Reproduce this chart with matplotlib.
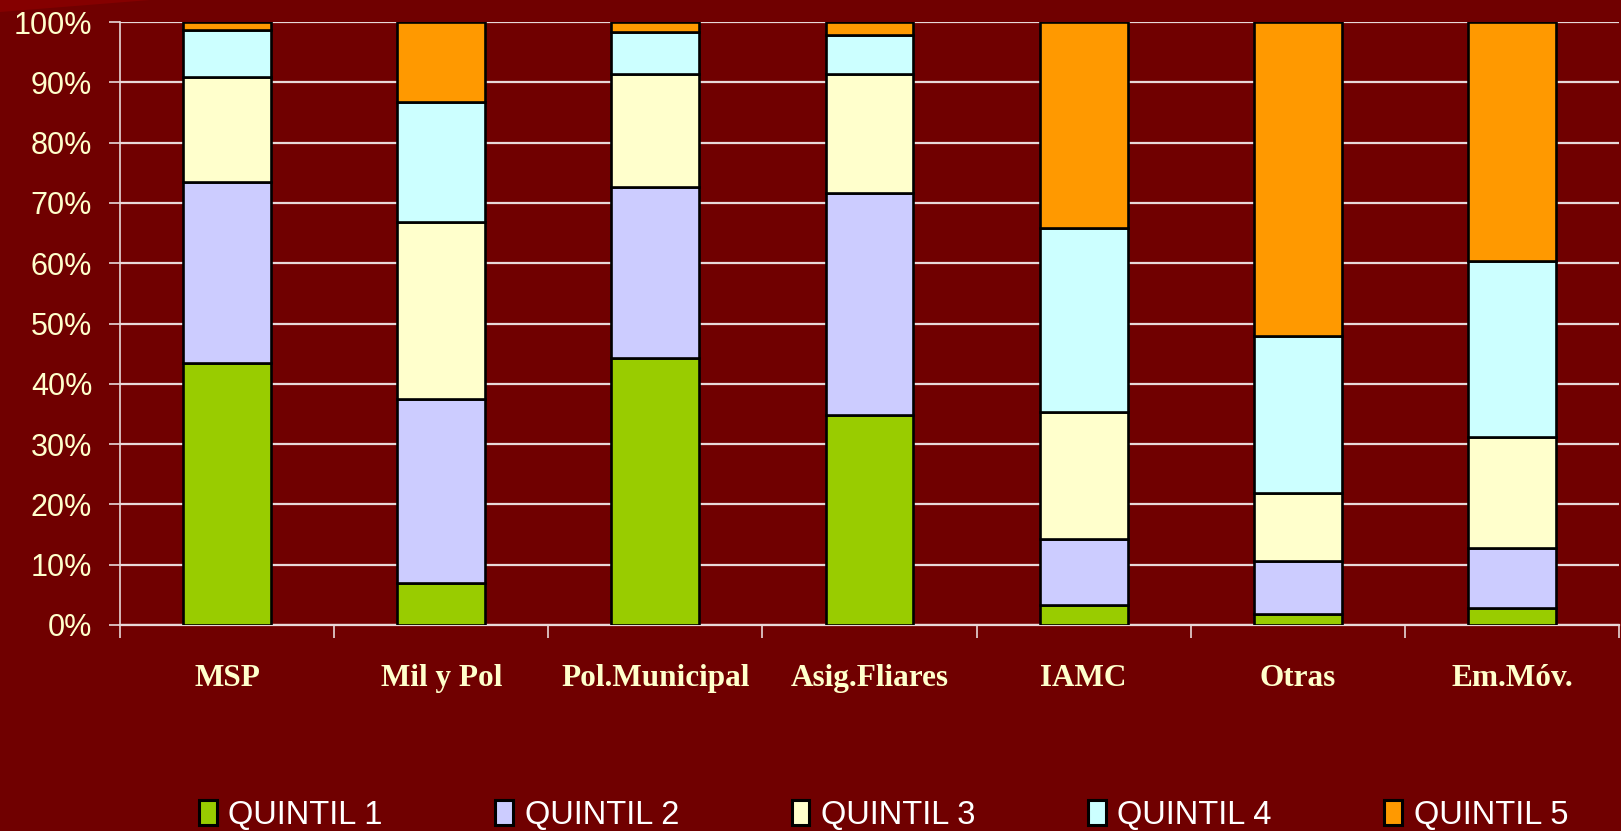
import numpy as np
import matplotlib.pyplot as plt
import matplotlib.ticker as mticker
from matplotlib.patches import Patch, Polygon

BG     = "#700000"
CREAM  = "#FFFFCC"
GRID   = "#E8D8D8"

categories = ["MSP", "Mil y Pol", "Pol.Municipal", "Asig.Fliares", "IAMC", "Otras", "Em.Móv."]
quintiles  = ["QUINTIL 1", "QUINTIL 2", "QUINTIL 3", "QUINTIL 4", "QUINTIL 5"]
colors     = ["#99CC00", "#CCCCFF", "#FFFFCC", "#CCFFFF", "#FF9900"]

# share (%) of each quintile per category
q1 = [43.5,  7.0, 44.3, 34.8,  3.3,  1.9,  2.9]
q2 = [30.0, 30.5, 28.3, 36.9, 10.9,  8.7,  9.9]
q3 = [17.4, 29.3, 18.8, 19.7, 21.1, 11.3, 18.4]
q4 = [ 7.7, 20.0,  6.9,  6.4, 30.6, 26.0, 29.1]
q5 = [ 1.4, 13.2,  1.7,  2.2, 34.1, 52.1, 39.7]
series = [q1, q2, q3, q4, q5]

fig = plt.figure(figsize=(16.21, 8.31), dpi=100, facecolor=BG)

# lighter wedge in the top-left corner of the slide background
fig.patches.append(Polygon([[0, 1], [0, 1 - 12 / 831], [150 / 1621, 1]], closed=True,
                           transform=fig.transFigure, facecolor="#850000",
                           edgecolor="none", zorder=0))

ax = fig.add_axes([120 / 1621, (831 - 625) / 831, 1499 / 1621, 603 / 831])
ax.set_facecolor(BG)

x = np.arange(len(categories))
bottom = np.zeros(len(categories))
for vals, col, lab in zip(series, colors, quintiles):
    ax.bar(x, vals, bottom=bottom, width=0.41, color=col, edgecolor="black",
           linewidth=1.9, zorder=3, label=lab)
    bottom += np.array(vals)

ax.set_xlim(-0.5, len(categories) - 0.5)
ax.set_ylim(0, 100)

ax.set_yticks(np.arange(0, 101, 10))
ax.yaxis.set_major_formatter(mticker.FuncFormatter(lambda v, _: f"{int(v)}%"))
ax.yaxis.grid(True, color=GRID, linewidth=1.6, zorder=1)
ax.tick_params(axis="y", colors=GRID, length=8, width=1.2, pad=12,
               labelsize=22, labelcolor=CREAM)
for t in ax.get_yticklabels():
    t.set_family("Liberation Sans")

ax.set_xticks(np.arange(-0.5, len(categories), 1.0))
ax.set_xticklabels([])
ax.set_xticks(x, minor=True)
ax.set_xticklabels(categories, minor=True, fontsize=22.5, fontweight="bold",
                   family="Liberation Serif", color=CREAM)
ax.tick_params(axis="x", which="major", colors=GRID, length=9, width=1.2, direction="out")
ax.tick_params(axis="x", which="minor", length=0, pad=28)

for side in ["top", "right"]:
    ax.spines[side].set_visible(False)
ax.spines["left"].set_color(GRID)
ax.spines["left"].set_linewidth(1.2)
ax.spines["bottom"].set_color(GRID)
ax.spines["bottom"].set_linewidth(1.6)

handles = [Patch(facecolor=c, edgecolor="black", linewidth=2.2, label=l)
           for c, l in zip(colors, quintiles)]
leg = fig.legend(handles=handles, loc="center", bbox_to_anchor=(0.545, 1 - 815 / 831),
                 ncol=5, frameon=False, handlelength=0.55, handleheight=0.8,
                 handletextpad=0.35, columnspacing=3.45,
                 prop={"family": "Liberation Sans", "size": 23.5})
for t in leg.get_texts():
    t.set_color("white")

fig.savefig("out.png", dpi=100, facecolor=BG)
